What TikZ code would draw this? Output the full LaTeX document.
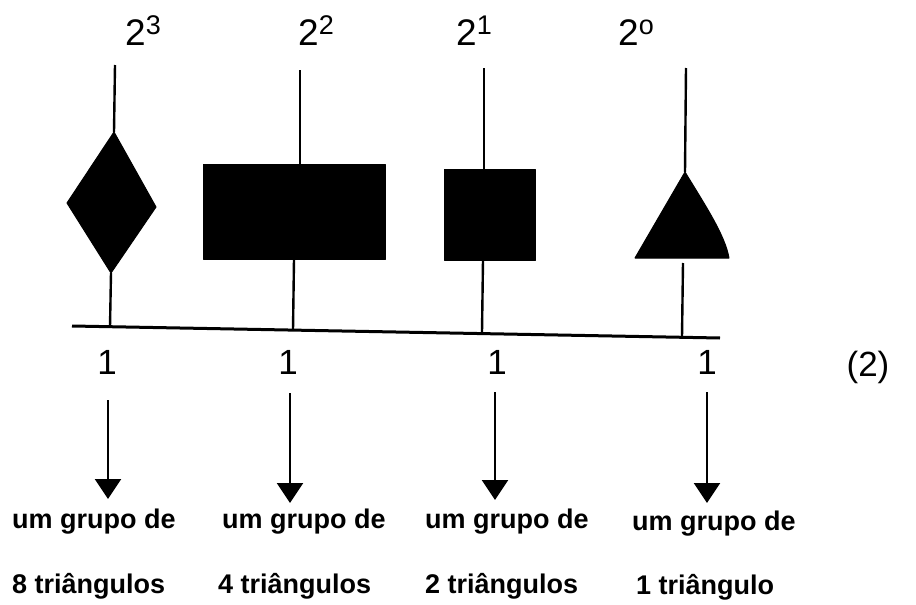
\documentclass[tikz,border=0pt]{standalone}
\usepackage{fontspec}
\setmainfont{Liberation Sans}
\usetikzlibrary{arrows.meta}
\tikzset{
  stem/.style={line width=2.4pt},
  axis/.style={line width=3pt},
  blob/.style={fill=black,draw=black,line width=1pt,line join=round},
  down/.style={line width=2.4pt,-{Triangle[width=26pt,length=20pt]}},
  power/.style={anchor=base west,inner sep=0pt},
  digit/.style={anchor=base,inner sep=0pt,font=\fontsize{35}{35}\selectfont},
  caption/.style={anchor=base west,inner sep=0pt,font=\fontsize{27}{27}\selectfont\bfseries},
}
\newcommand{\pw}[1]{{\fontsize{37}{37}\selectfont 2}\raisebox{10pt}{\fontsize{27}{27}\selectfont #1}}
\begin{document}
\begin{tikzpicture}[x=1pt,y=-1pt]
\useasboundingbox (0,0) rectangle (916,605);

% place-value headings
\node[power] (p3) at (125,45) {\pw{3}};
\node[power] (p2) at (298,45) {\pw{2}};
\node[power] (p1) at (456,45) {\pw{1}};
\node[power] (p0) at (618,45) {\pw{o}};

% base line
\coordinate (bl) at (72,326);
\coordinate (br) at (720,338);
\draw[axis] (bl) -- (br);

% 2^3 : diamond
\coordinate (s3t) at (115,65);
\coordinate (d3n) at (114,132);
\coordinate (d3w) at (67,203);
\coordinate (d3s) at (111,273);
\coordinate (d3e) at (156,207);
\coordinate (s3b) at (110,326.7);
\fill[blob] (d3n) -- (d3e) -- (d3s) -- (d3w) -- cycle;
\draw[stem] (s3t) -- (d3n);
\draw[stem] (d3s) -- (s3b);

% 2^2 : rectangle
\coordinate (s2t) at (300,70);
\coordinate (r2a) at (203,164);
\coordinate (r2b) at (385,259);
\coordinate (r2u) at (300,164);
\coordinate (r2d) at (294,259);
\coordinate (s2b) at (293,330);
\fill[blob] (r2a) rectangle (r2b);
\draw[stem] (s2t) -- (r2u);
\draw[stem] (r2d) -- (s2b);

% 2^1 : square
\coordinate (s1t) at (484,68);
\coordinate (q1a) at (444,169);
\coordinate (q1b) at (535,260);
\coordinate (q1u) at (484,169);
\coordinate (q1d) at (483,260);
\coordinate (s1b) at (482,332);
\fill[blob] (q1a) rectangle (q1b);
\draw[stem] (s1t) -- (q1u);
\draw[stem] (q1d) -- (s1b);

% 2^0 : triangle
\coordinate (s0t) at (686,68);
\coordinate (t0n) at (685,172);
\coordinate (t0w) at (635,258);
\coordinate (t0e) at (729,258);
\coordinate (s0m) at (683,263);
\coordinate (s0b) at (682,337);
\fill[blob] (t0n) .. controls (705,205) and (725,235) .. (t0e) -- (t0w) -- cycle;
\draw[stem] (s0t) -- (t0n);
\draw[stem] (s0m) -- (s0b);

% digits of the number
\node[digit] (n3) at (107,374) {1};
\node[digit] (n2) at (288,374) {1};
\node[digit] (n1) at (497,374) {1};
\node[digit] (n0) at (707,374) {1};
\node[digit] (tag) at (868,376) {(2)};

% arrows to the meanings
\coordinate (a3) at (108,400);
\coordinate (a2) at (290,393);
\coordinate (a1) at (495,392);
\coordinate (a0) at (707,392);
\coordinate (h3) at (108,499);
\coordinate (h2) at (290,503);
\coordinate (h1) at (495,500);
\coordinate (h0) at (707,503);
\draw[down] (a3) -- (h3);
\draw[down] (a2) -- (h2);
\draw[down] (a1) -- (h1);
\draw[down] (a0) -- (h0);

% meanings
\node[caption] (g3) at (12,528) {um grupo de};
\node[caption] (g2) at (222,528) {um grupo de};
\node[caption] (g1) at (425,528) {um grupo de};
\node[caption] (g0) at (632,530) {um grupo de};
\node[caption] (c3) at (12,593) {8 triângulos};
\node[caption] (c2) at (218,593) {4 triângulos};
\node[caption] (c1) at (425,593) {2 triângulos};
\node[caption] (c0) at (636,594) {1 triângulo};
\end{tikzpicture}
\end{document}
